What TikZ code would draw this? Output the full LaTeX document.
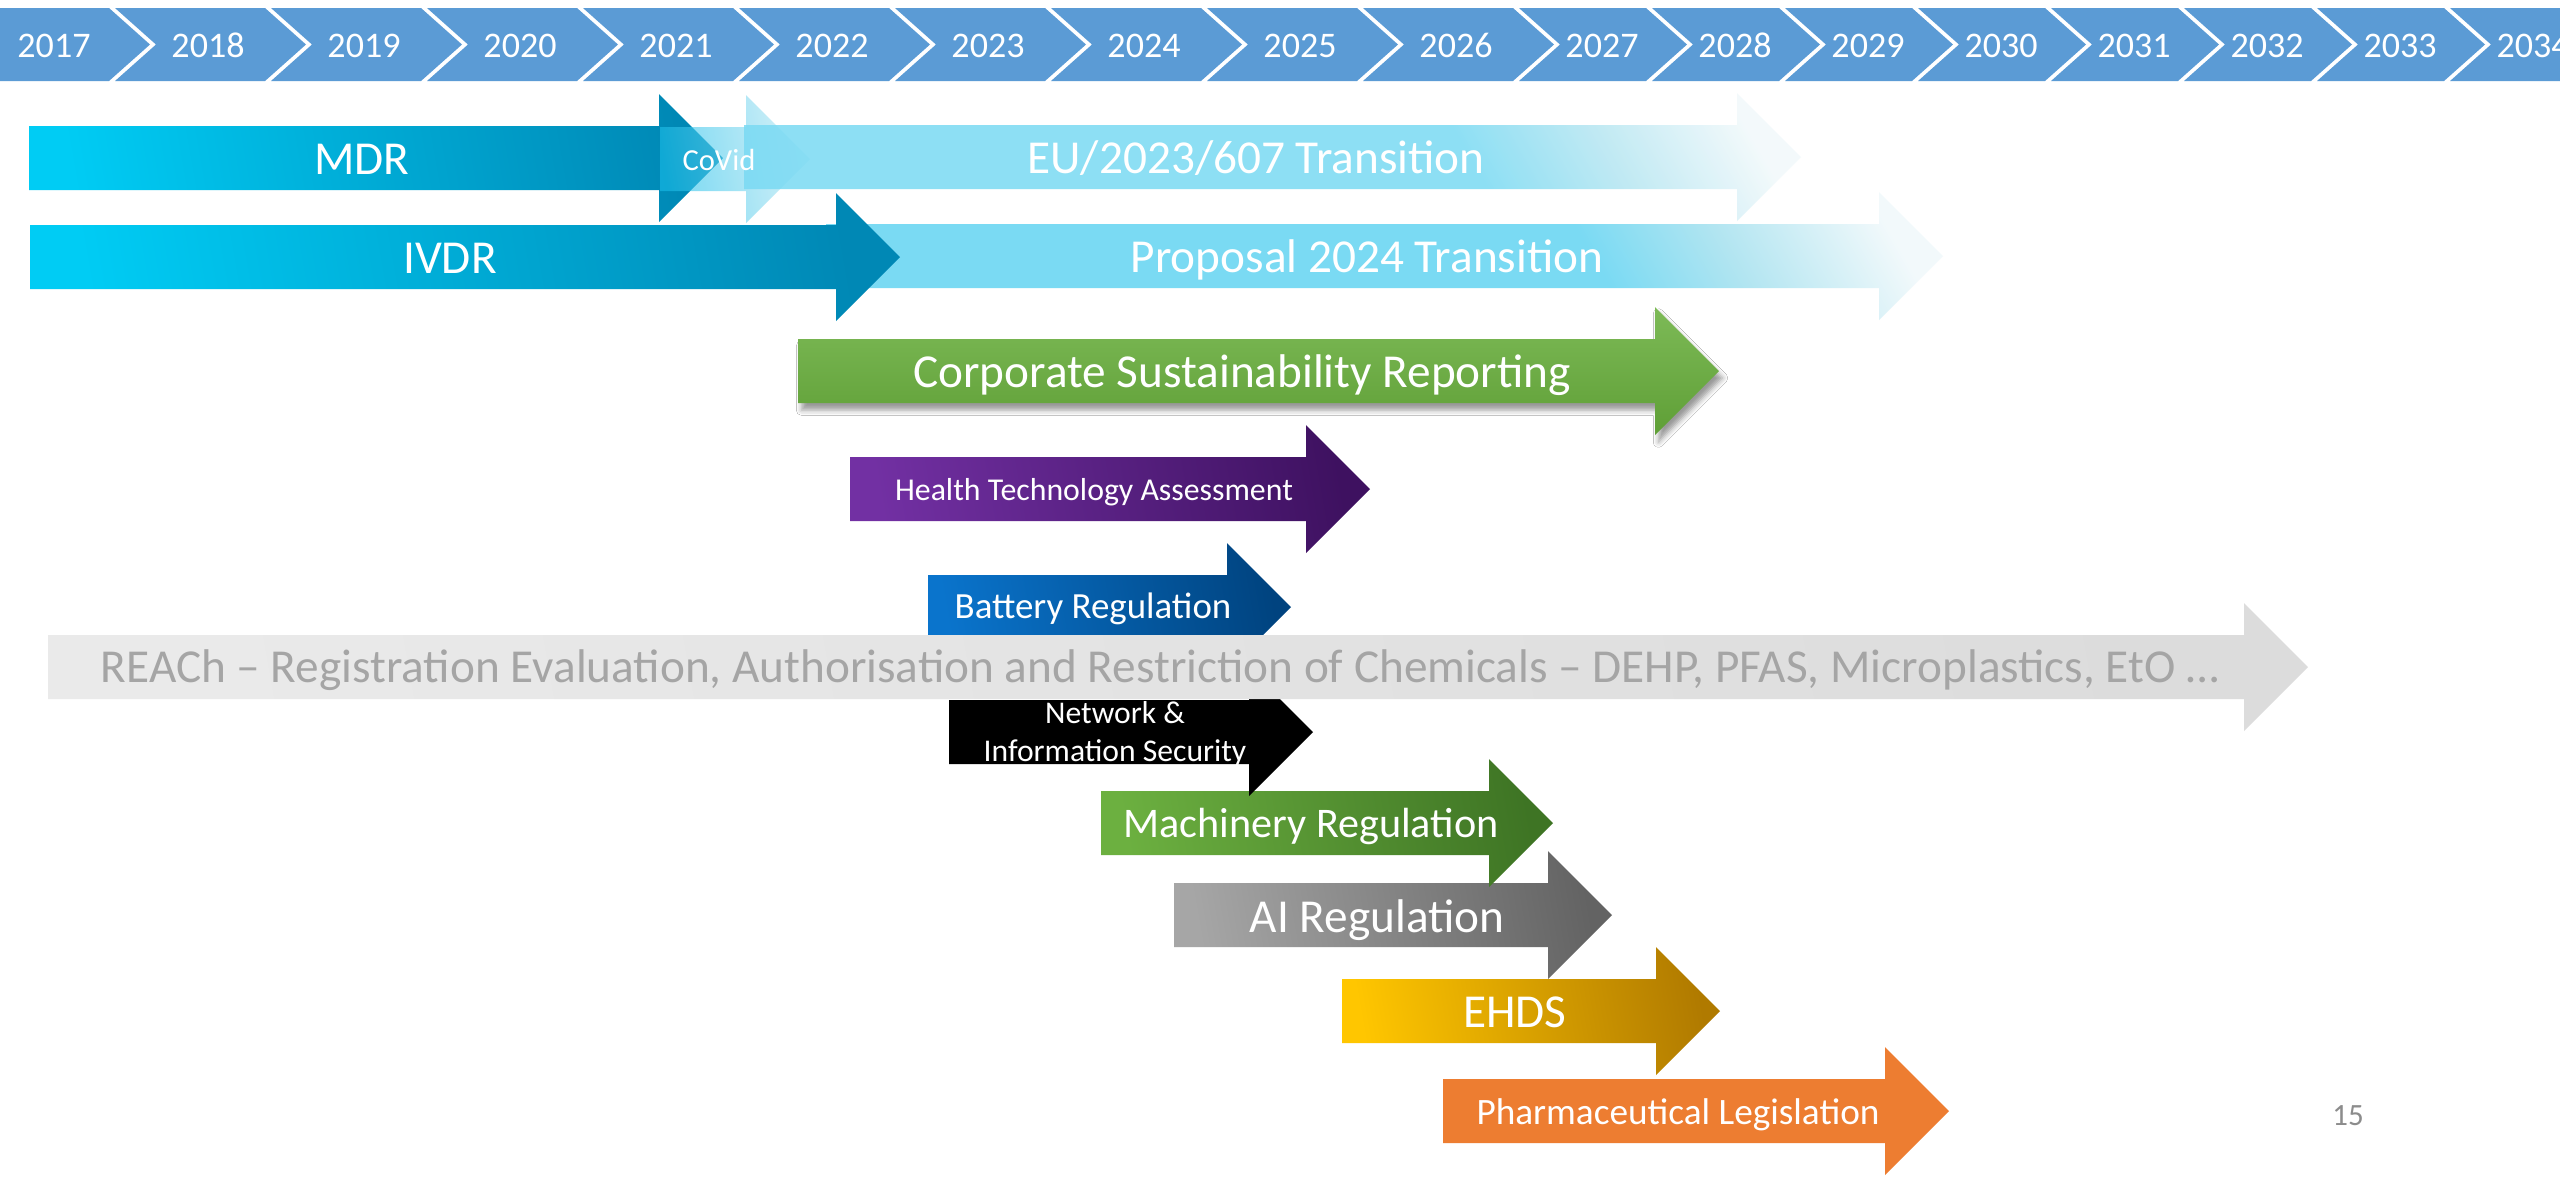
\documentclass[tikz,border=0pt]{standalone}
\usepackage{fontspec}
\setmainfont{Carlito}
\usetikzlibrary{shadows.blur}

\definecolor{yearblue}{HTML}{5B9BD5}
\definecolor{cyanL}{HTML}{00CCF4}
\definecolor{cyanD}{HTML}{0088B5}
\definecolor{paleL}{HTML}{7ADAF3}
\definecolor{paleM}{HTML}{B2E5F1}
\definecolor{paleW}{HTML}{F2F9FB}
\definecolor{covidL}{HTML}{19BEEA}
\definecolor{covidW}{HTML}{BDE8F3}
\definecolor{greenT}{HTML}{7DBA57}
\definecolor{greenB}{HTML}{5F9F36}
\definecolor{purpL}{HTML}{7230A3}
\definecolor{purpD}{HTML}{3E1160}
\definecolor{battL}{HTML}{0A74CC}
\definecolor{battD}{HTML}{00437F}
\definecolor{reachL}{HTML}{EAEAEA}
\definecolor{reachD}{HTML}{DCDCDC}
\definecolor{reachText}{HTML}{A5A5A5}
\definecolor{machL}{HTML}{6CB040}
\definecolor{machD}{HTML}{3E7424}
\definecolor{aiL}{HTML}{A6A6A6}
\definecolor{aiD}{HTML}{636363}
\definecolor{ehdsL}{HTML}{FFC600}
\definecolor{ehdsD}{HTML}{B07A00}
\definecolor{pharma}{HTML}{ED7D31}
\definecolor{pagenum}{HTML}{8C8C8C}

% pale cyan fading to white towards the upper right of the arrow head
\pgfdeclarehorizontalshading{palefade}{100bp}{color(0bp)=(paleL); color(62bp)=(paleL);
  color(70bp)=(paleM); color(80bp)=(paleW); color(100bp)=(paleW)}

% block arrow: style, left x, tip x, centre y (body half 32, head half 64, head length 64)
\newcommand{\blockarrow}[4]{%
  \path[#1] (#2,#4-32) -- (#3-64,#4-32) -- (#3-64,#4-64) -- (#3,#4)
    -- (#3-64,#4+64) -- (#3-64,#4+32) -- (#2,#4+32) -- cycle;}

\begin{document}
\begin{tikzpicture}[x=0.1mm,y=-0.1mm,
  yr/.style={text=white, inner sep=0pt, anchor=base, font=\fontsize{10.25}{12}\selectfont},
  lbl/.style={text=white, inner sep=0pt, anchor=base, font=\fontsize{13.45}{15}\selectfont},
  diag/.style 2 args={left color=#1, right color=#2, shading angle=100},
  fade/.style={shading=palefade, shading angle=30},
]
\useasboundingbox (0,0) rectangle (2560,1181);
\fill[white] (0,0) rectangle (2560,1181);

% ---- year chevrons ----
\begin{scope}
\clip (0,0) rectangle (2560,1181);
\fill[yearblue] (0,8) -- (150-41,8) -- (150,44.5) -- (150-41,81) -- (0,81) -- cycle;
\node[yr] (y2017) at (150-96,57) {2017};
\foreach \yr/\t/\p/\tx in {2018/306/150/98,2019/462/306/98,2020/618/462/98,
    2021/774/618/98,2022/930/774/98,2023/1086/930/98,2024/1242/1086/98,
    2025/1398/1242/98,2026/1554/1398/98,2027/1687/1554/85,2028/1820/1687/85,
    2029/1953/1820/85,2030/2086/1953/85,2031/2219/2086/85,2032/2352/2219/85,
    2033/2485/2352/85,2034/2618/2485/85}{
  \fill[yearblue] (\p+6-41,8) -- (\t-41,8) -- (\t,44.5) -- (\t-41,81)
      -- (\p+6-41,81) -- (\p+6,44.5) -- cycle;
  \node[yr] (y\yr) at (\t-\tx,57) {\yr};
}
\end{scope}

% ---- regulation arrows, lowest first ----
\blockarrow{fill=pharma}{1443}{1949}{1111}
\blockarrow{diag={ehdsL}{ehdsD}}{1342}{1720}{1011}
\blockarrow{diag={aiL}{aiD}}{1174}{1612}{915}
\blockarrow{diag={machL}{machD}}{1101}{1553}{823}
\blockarrow{fill=black}{949}{1313}{732}
\blockarrow{diag={battL}{battD}}{928}{1291}{607}
\blockarrow{diag={reachL}{reachD}}{48}{2308}{667}
\blockarrow{diag={purpL}{purpD}}{850}{1370}{489}
\blockarrow{top color=greenT, bottom color=greenB,
  blur shadow={shadow xshift=1pt, shadow yshift=-2pt, shadow blur radius=1.5pt, shadow opacity=40}}{798}{1719}{371}
\blockarrow{fade}{826}{1943}{256}
\blockarrow{diag={cyanL}{cyanD}}{30}{900}{257}
\blockarrow{diag={cyanL}{cyanD}}{29}{723}{158}
\blockarrow{diag={covidL}{covidW}, fill opacity=0.6}{660}{810}{159}
\blockarrow{fade, fill opacity=0.85}{744}{1801}{157}

% ---- labels ----
\node[lbl] (mdr) at (362,174) {MDR};
\node[lbl, font=\fontsize{8.7}{10}\selectfont] (covid) at (719,170) {CoVid};
\node[lbl] (eu) at (1256,173) {EU/2023/607 Transition};
\node[lbl] (ivdr) at (450,273) {IVDR};
\node[lbl] (prop) at (1367,272) {Proposal 2024 Transition};
\node[lbl] (csr) at (1242,387) {Corporate Sustainability Reporting};
\node[lbl, font=\fontsize{9.05}{10}\selectfont] (hta) at (1094,500) {Health Technology Assessment};
\node[lbl, font=\fontsize{10.5}{12}\selectfont] (batt) at (1093,618) {Battery Regulation};
\node[lbl, text=reachText] (reach) at (1160,682)
  {REACh – Registration Evaluation, Authorisation and Restriction of Chemicals – DEHP, PFAS, Microplastics, EtO …};
\node[lbl, font=\fontsize{9}{10}\selectfont] (nis1) at (1115,723) {Network \&};
\node[lbl, font=\fontsize{9}{10}\selectfont] (nis2) at (1115,761) {Information Security};
\node[lbl, font=\fontsize{12}{14}\selectfont] (mach) at (1311,837) {Machinery Regulation};
\node[lbl] (ai) at (1377,932) {AI Regulation};
\node[lbl] (ehds) at (1515,1027) {EHDS};
\node[lbl, font=\fontsize{10.6}{12}\selectfont] (pharm) at (1678,1124) {Pharmaceutical Legislation};
\node[lbl, text=pagenum, font=\fontsize{8.8}{10}\selectfont] (page) at (2348,1125) {15};
\end{tikzpicture}
\end{document}
